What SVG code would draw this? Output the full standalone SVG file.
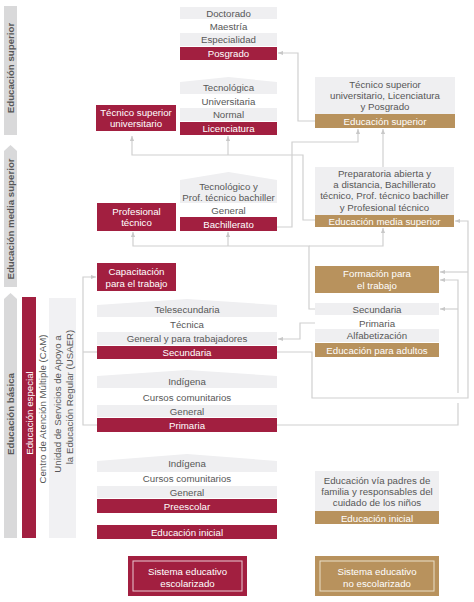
<svg xmlns="http://www.w3.org/2000/svg" width="474" height="602" viewBox="0 0 474 602">
<style>
.t{font-family:"Liberation Sans",Arial,sans-serif;font-size:9.7px;fill:#575757;text-anchor:middle;dominant-baseline:central}
.w{fill:#fff}
.b{font-weight:bold}
.bg{fill:#EFEFF1}
.red{fill:#A21F40}
.gold{fill:#B8925D}
.ln{fill:none;stroke:#D0D0D0;stroke-width:1.2}
</style>
<defs>
<marker id="ah" viewBox="0 0 6 6" refX="6" refY="3" markerWidth="5" markerHeight="5" markerUnits="userSpaceOnUse" orient="auto"><path d="M0,0.5 L6,3 L0,5.5z" fill="#C8C8C8"/></marker>
</defs>
<rect width="474" height="602" fill="#fff"/>

<g id="sidebars">
<g id="side-superior"><rect x="4" y="6" width="13" height="129" fill="#D9D9DA"/><text class="t b" transform="translate(10.5,68) rotate(-90)">Educación superior</text></g>
<g id="side-media"><polygon points="4,151 10.5,145 17,151 17,287 4,287" fill="#D9D9DA"/><text class="t b" transform="translate(10.5,219) rotate(-90)">Educación media superior</text></g>
<g id="side-basica"><polygon points="4,299 10.5,293 17,299 17,538 4,538" fill="#D9D9DA"/><text class="t b" transform="translate(10.5,414) rotate(-90)">Educación básica</text></g>
<g id="side-especial"><rect x="22" y="297" width="14" height="241" class="red"/><text class="t w" transform="translate(29,413) rotate(-90)">Educación especial</text></g>
<g id="side-cam"><text class="t" transform="translate(42.5,409) rotate(-90)">Centro de Atención Múltiple (CAM)</text></g>
<g id="side-usaer"><rect x="49" y="298" width="27" height="240" fill="#F1F1F3"/><text class="t" transform="translate(57,404) rotate(-90)"><tspan x="0" y="0">Unidad de Servicios de Apoyo a</tspan><tspan x="7" y="11.5">la Educación Regular (USAER)</tspan></text></g>
</g>

<g id="connectors">
<path class="ln" d="M315,121 H298 V53 H278" marker-end="url(#ah)"/>
<path class="ln" d="M277,227 H292 V142 H358 V129" marker-end="url(#ah)"/>
<path class="ln" d="M315,220 H303 V155 H132 V136" marker-end="url(#ah)"/>
<path class="ln" d="M228,155 V136" marker-end="url(#ah)"/>
<path class="ln" d="M383,167 V129" marker-end="url(#ah)"/>
<path class="ln" d="M315,309 H309 V246 H133 V232" marker-end="url(#ah)"/>
<path class="ln" d="M228,246 V232" marker-end="url(#ah)"/>
<path class="ln" d="M309,246 H383 V228" marker-end="url(#ah)"/>
<path class="ln" d="M277,352 H312 V398 H468 V221 H455" marker-end="url(#ah)"/>
<path class="ln" d="M468,272 H440" marker-end="url(#ah)"/>
<path class="ln" d="M277,425 H458 V403"/>
<path class="ln" d="M458,393 V280 H440" marker-end="url(#ah)"/>
<path class="ln" d="M458,309 H440" marker-end="url(#ah)"/>
<path class="ln" d="M315,323 H300 V339 H278" marker-end="url(#ah)"/>
<path class="ln" d="M97,425 H83 V277 H96" marker-end="url(#ah)"/>
<path class="ln" d="M97,352 H83"/>
</g>

<g id="posgrado">
<rect x="180" y="7" width="97" height="12" class="bg"/><text class="t" x="228.5" y="13">Doctorado</text>
<text class="t" x="228.5" y="26.5">Maestría</text>
<rect x="180" y="33" width="97" height="13" class="bg"/><text class="t" x="228.5" y="39.5">Especialidad</text>
<rect x="180" y="47" width="97" height="13" class="red"/><text class="t w" x="228.5" y="53.5">Posgrado</text>
</g>

<g id="licenciatura">
<polygon points="180,82 228.5,77 277,82 277,94 180,94" class="bg"/><text class="t" x="228.5" y="87">Tecnológica</text>
<text class="t" x="228.5" y="101">Universitaria</text>
<rect x="180" y="108" width="97" height="13" class="bg"/><text class="t" x="228.5" y="114.5">Normal</text>
<rect x="180" y="122" width="97" height="13" class="red"/><text class="t w" x="228.5" y="128.5">Licenciatura</text>
</g>

<g id="tsu">
<rect x="96" y="105" width="80" height="26" class="red"/>
<text class="t w"><tspan x="136" y="112">Técnico superior</tspan><tspan x="136" y="123.2">universitario</tspan></text>
</g>

<g id="profesional-tecnico">
<rect x="97" y="203" width="79" height="28" class="red"/>
<text class="t w"><tspan x="136.5" y="211">Profesional</tspan><tspan x="136.5" y="222.2">técnico</tspan></text>
</g>

<g id="bachillerato">
<polygon points="180,180 228.5,172 277,180 277,203 180,203" class="bg"/>
<text class="t"><tspan x="228.5" y="185.8">Tecnológico y</tspan><tspan x="228.5" y="197">Prof. técnico bachiller</tspan></text>
<text class="t" x="228.5" y="210">General</text>
<rect x="180" y="217" width="97" height="14" class="red"/><text class="t w" x="228.5" y="224">Bachillerato</text>
</g>

<g id="capacitacion">
<rect x="97" y="263" width="79" height="28" class="red"/>
<text class="t w"><tspan x="136.5" y="271.3">Capacitación</tspan><tspan x="136.5" y="282.5">para el trabajo</tspan></text>
</g>

<g id="secundaria">
<polygon points="97,305 187,299 277,305 277,317 97,317" class="bg"/><text class="t" x="187" y="309">Telesecundaria</text>
<text class="t" x="187" y="324">Técnica</text>
<rect x="97" y="332" width="180" height="13" class="bg"/><text class="t" x="187" y="338.5">General y para trabajadores</text>
<rect x="97" y="346" width="180" height="13" class="red"/><text class="t w" x="187" y="352.5">Secundaria</text>
</g>

<g id="primaria">
<polygon points="97,376 187,370 277,376 277,388 97,388" class="bg"/><text class="t" x="187" y="381">Indígena</text>
<text class="t" x="187" y="397">Cursos comunitarios</text>
<rect x="97" y="405" width="180" height="12" class="bg"/><text class="t" x="187" y="411">General</text>
<rect x="97" y="418" width="180" height="14" class="red"/><text class="t w" x="187" y="425">Primaria</text>
</g>

<g id="preescolar">
<polygon points="97,461 187,454 277,461 277,472 97,472" class="bg"/><text class="t" x="187" y="463">Indígena</text>
<text class="t" x="187" y="478">Cursos comunitarios</text>
<rect x="97" y="486" width="180" height="12" class="bg"/><text class="t" x="187" y="492">General</text>
<rect x="97" y="499" width="180" height="14" class="red"/><text class="t w" x="187" y="506">Preescolar</text>
</g>

<g id="inicial-escolarizado">
<rect x="97" y="525" width="180" height="14" class="red"/><text class="t w" x="187" y="532">Educación inicial</text>
</g>

<g id="sistema-escolarizado">
<rect x="128" y="556" width="119" height="40" class="red"/>
<rect x="133" y="561" width="109" height="30" fill="none" stroke="#E9C9D1" stroke-width="1"/>
<text class="t w"><tspan x="187.5" y="571">Sistema educativo</tspan><tspan x="187.5" y="583">escolarizado</tspan></text>
</g>

<g id="superior-no-esc">
<rect x="315" y="77" width="140" height="37" class="bg"/>
<text class="t"><tspan x="385" y="83.8">Técnico superior</tspan><tspan x="385" y="95">universitario, Licenciatura</tspan><tspan x="385" y="106.2">y Posgrado</tspan></text>
<rect x="315" y="114" width="140" height="14" class="gold"/><text class="t w" x="385" y="121">Educación superior</text>
</g>

<g id="media-no-esc">
<rect x="315" y="167" width="139" height="48" class="bg"/>
<text class="t"><tspan x="384.5" y="173">Preparatoria abierta y</tspan><tspan x="384.5" y="184.2">a distancia, Bachillerato</tspan><tspan x="384.5" y="195.4">técnico, Prof. técnico bachiller</tspan><tspan x="384.5" y="206.6">y Profesional técnico</tspan></text>
<rect x="315" y="215" width="139" height="12" class="gold"/><text class="t w" x="384.5" y="221">Educación media superior</text>
</g>

<g id="formacion">
<rect x="315" y="266" width="124" height="27" class="gold"/>
<text class="t w"><tspan x="377" y="273.4">Formación para</tspan><tspan x="377" y="284.6">el trabajo</tspan></text>
</g>

<g id="adultos">
<rect x="315" y="303" width="124" height="12" class="bg"/><text class="t" x="377" y="309">Secundaria</text>
<text class="t" x="377" y="323">Primaria</text>
<rect x="315" y="329" width="124" height="13" class="bg"/><text class="t" x="377" y="335.5">Alfabetización</text>
<rect x="315" y="343" width="124" height="14" class="gold"/><text class="t w" x="377" y="350">Educación para adultos</text>
</g>

<g id="inicial-no-esc">
<rect x="315" y="471" width="124" height="40" class="bg"/>
<text class="t"><tspan x="377" y="479.8">Educación vía padres de</tspan><tspan x="377" y="491">familia y responsables del</tspan><tspan x="377" y="502.2">cuidado de los niños</tspan></text>
<rect x="315" y="511" width="124" height="13" class="gold"/><text class="t w" x="377" y="518">Educación inicial</text>
</g>

<g id="sistema-no-esc">
<rect x="315" y="556" width="124" height="40" class="gold"/>
<rect x="320" y="561" width="114" height="30" fill="none" stroke="#EADFC9" stroke-width="1"/>
<text class="t w"><tspan x="377" y="571">Sistema educativo</tspan><tspan x="377" y="583">no escolarizado</tspan></text>
</g>
</svg>
